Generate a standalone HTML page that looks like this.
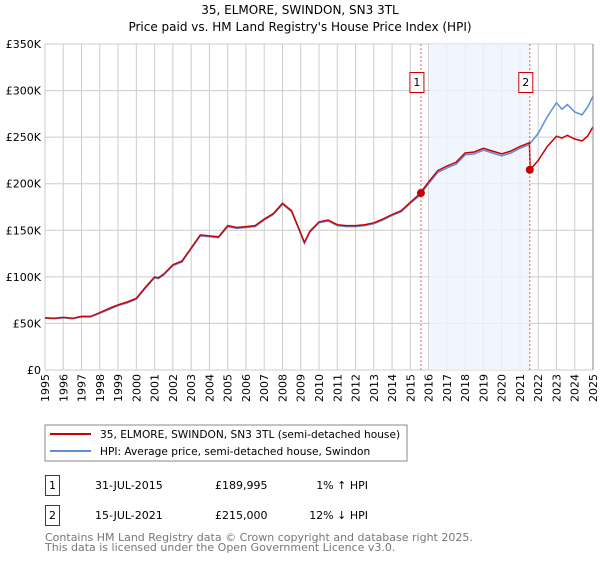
<!DOCTYPE html>
<html><head><meta charset="utf-8"><style>
body{margin:0;background:#fff;font-family:"DejaVu Sans","Liberation Sans",sans-serif;}
svg text{font-family:"DejaVu Sans","Liberation Sans",sans-serif;}
</style></head><body>
<svg id="chart" width="600" height="560" viewBox="0 0 600 560" xmlns="http://www.w3.org/2000/svg">
<text x="300" y="14" text-anchor="middle" font-size="12">35, ELMORE, SWINDON, SN3 3TL</text>
<text x="300" y="31" text-anchor="middle" font-size="12">Price paid vs. HM Land Registry's House Price Index (HPI)</text>
<g id="grid"></g><g id="shade"></g><g id="series"></g><g id="axes"></g>
<rect x="45" y="425" width="362" height="36" fill="#fff" stroke="#888"/>
<line x1="50" y1="434" x2="91" y2="434" stroke="#cc0000" stroke-width="2"/>
<text x="100" y="438" font-size="10.6">35, ELMORE, SWINDON, SN3 3TL (semi-detached house)</text>
<line x1="50" y1="451" x2="91" y2="451" stroke="#5b8fd6" stroke-width="2"/>
<text x="100" y="455" font-size="10.6">HPI: Average price, semi-detached house, Swindon</text>
<g>
<rect x="45.5" y="475.5" width="14" height="20" fill="#fff" stroke="#cc0000"/>
<text x="52.5" y="489" text-anchor="middle" font-size="11">1</text>
<text x="95" y="489" font-size="11">31-JUL-2015</text>
<text x="215" y="489" font-size="11">£189,995</text>
<text x="368" y="489" text-anchor="end" font-size="11">1% ↑ HPI</text></g>
<g>
<rect x="45.5" y="505.5" width="14" height="20" fill="#fff" stroke="#cc0000"/>
<text x="52.5" y="519" text-anchor="middle" font-size="11">2</text>
<text x="95" y="519" font-size="11">15-JUL-2021</text>
<text x="215" y="519" font-size="11">£215,000</text>
<text x="368" y="519" text-anchor="end" font-size="11">12% ↓ HPI</text></g>
<text x="45" y="541" font-size="11" fill="#777">Contains HM Land Registry data © Crown copyright and database right 2025.</text>
<text x="45" y="551" font-size="11" fill="#777">This data is licensed under the Open Government Licence v3.0.</text>
</svg>
<script>
const hpiYears=[1995,1995.5,1996,1996.5,1997,1997.5,1998,1998.5,1999,1999.5,2000,2000.5,2001,2001.2,2001.5,2002,2002.5,2003,2003.5,2004,2004.5,2005,2005.5,2006,2006.5,2007,2007.5,2008,2008.5,2009,2009.2,2009.5,2010,2010.5,2011,2011.5,2012,2012.5,2013,2013.5,2014,2014.5,2015,2015.5,2016,2016.5,2017,2017.5,2018,2018.5,2019,2019.5,2020,2020.5,2021,2021.5,2022,2022.5,2023,2023.3,2023.6,2024,2024.4,2024.7,2025];
const hpiValues=[55.5,55,56,55,57,57,61,65,69,72,76,88,99,98,102,112,116,130,144,143,142,154,152,153,154,161,167,178,170,146,136,148,158,160,155,154,154,155,157,161,166,170,179,187,200,212,217,221,231,232,236,233,230,233,238,242,254,272,287,280,285,277,274,282,294];
const propYears=[1995,1995.5,1996,1996.5,1997,1997.5,1998,1998.5,1999,1999.5,2000,2000.5,2001,2001.2,2001.5,2002,2002.5,2003,2003.5,2004,2004.5,2005,2005.5,2006,2006.5,2007,2007.5,2008,2008.5,2009,2009.2,2009.5,2010,2010.5,2011,2011.5,2012,2012.5,2013,2013.5,2014,2014.5,2015,2015.5,2016,2016.5,2017,2017.5,2018,2018.5,2019,2019.5,2020,2020.5,2021,2021.52,2021.56,2022,2022.5,2023,2023.3,2023.6,2024,2024.4,2024.7,2025];
const propValues=[56,55.5,56.5,55.5,57.5,57.5,61.5,66,70,73,77,89,100,99,103,113,117,131,145,144,143,155,153,154,155,162,168,179,171,147,137,149,159,161,156,155,155,156,158,162,167,171,180,189,202,214,219,223,233,234,238,235,232,235,240,244,215,225,240,251,249,252,248,246,251,261];
const sales=[{n:"1",year:2015.58,value:189.995},{n:"2",year:2021.54,value:215}];
const yTicks=[0,50,100,150,200,250,300,350];
const xTicks=[];for(let y=1995;y<=2025;y++)xTicks.push(y);
const X0=45,X1=593,Y0=370,Y1=44;
const xs=y=>X0+(y-1995)/30*(X1-X0);
const ys=v=>Y0-v/350*(Y0-Y1);
const NS="http://www.w3.org/2000/svg";
function mk(tag,attrs,parent){const e=document.createElementNS(NS,tag);for(const k in attrs)e.setAttribute(k,attrs[k]);parent.appendChild(e);return e;}
const grid=document.getElementById('grid'),axes=document.getElementById('axes'),ser=document.getElementById('series'),shade=document.getElementById('shade');
yTicks.forEach(v=>{const l=mk('line',{x1:X0,x2:X1,y1:ys(v),y2:ys(v),stroke:'#ccc'},grid);


const t=mk('text',{x:X0-4,y:ys(v)+4,'text-anchor':'end','font-size':'11'},axes);t.textContent=v===0?'£0':'£'+v+'K';

});
xTicks.forEach(y=>{const l=mk('line',{x1:xs(y),x2:xs(y),y1:Y1,y2:Y0,stroke:'#ccc'},grid);


const t=mk('text',{x:0,y:0,'text-anchor':'end','font-size':'11',transform:`translate(${xs(y)+4},374) rotate(-90)`},axes);t.textContent=y;

});
const sr=mk('rect',{x:xs(2016.08),y:Y1,width:xs(sales[1].year)-xs(2016.08),height:Y0-Y1,fill:'#eef3fd',opacity:0.8},shade);


const pts=(a,b)=>a.map((y,i)=>xs(y).toFixed(1)+','+ys(b[i]).toFixed(1)).join(' ');
const hl=mk('polyline',{points:pts(hpiYears,hpiValues),fill:'none',stroke:'#5b8fd6','stroke-width':1.5},ser);


const pl=mk('polyline',{points:pts(propYears,propValues),fill:'none',stroke:'#cc0000','stroke-width':1.5},ser);


sales.forEach(s=>{const l=mk('line',{x1:xs(s.year),x2:xs(s.year),y1:Y1,y2:Y0,stroke:'#f06060','stroke-dasharray':'2,2'},ser);


const c=mk('circle',{cx:xs(s.year),cy:ys(s.value),r:4,fill:'#cc0000'},ser);


const g=mk('g',{},ser);


mk('rect',{x:xs(s.year)-11,y:72.5,width:14,height:20,fill:'#fff',stroke:'#cc0000'},g);
const t=mk('text',{x:xs(s.year)-4,y:86,'text-anchor':'middle','font-size':'11'},g);t.textContent=s.n;});
const ax=mk('line',{x1:X1,x2:X1,y1:Y1,y2:Y0,stroke:'#888'},axes);


</script>
</body></html>
